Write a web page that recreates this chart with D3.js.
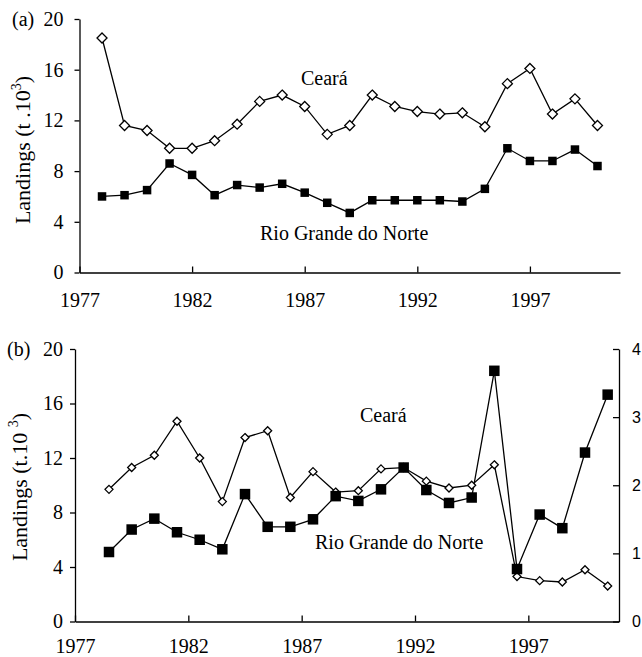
<!DOCTYPE html>
<html>
<head>
<meta charset="utf-8">
<script src="https://cdn.jsdelivr.net/npm/d3@7"></script>
<style>
body { margin: 0; background: #fff; }
svg { display: block; }
</style>
</head>
<body>
<svg id="chart" width="642" height="657"></svg>
<script>
// data (thousand tonnes)
const years = [1978, 1979, 1980, 1981, 1982, 1983, 1984, 1985, 1986, 1987, 1988, 1989,
               1990, 1991, 1992, 1993, 1994, 1995, 1996, 1997, 1998, 1999, 2000];
const xTicks = [1977, 1982, 1987, 1992, 1997];
const yTicks = [0, 4, 8, 12, 16, 20];
const yRightTicks = [0, 1, 2, 3, 4];

const cearaA = [18.5, 11.6, 11.2, 9.8, 9.8, 10.4, 11.7, 13.5, 14.0, 13.1, 10.9, 11.6,
                14.0, 13.1, 12.7, 12.5, 12.6, 11.5, 14.9, 16.1, 12.5, 13.7, 11.6];
const rgnA = [6.0, 6.1, 6.5, 8.6, 7.7, 6.1, 6.9, 6.7, 7.0, 6.3, 5.5, 4.7,
              5.7, 5.7, 5.7, 5.7, 5.6, 6.6, 9.8, 8.8, 8.8, 9.7, 8.4];

const cearaB = [9.7, 11.3, 12.2, 14.7, 12.0, 8.8, 13.5, 14.0, 9.1, 11.0, 9.5, 9.6,
                11.2, 11.3, 10.3, 9.8, 10.0, 11.5, 3.3, 3.0, 2.9, 3.8, 2.6];
// Rio Grande do Norte in (b) is read on the right axis
const rgnB = [1.02, 1.35, 1.51, 1.31, 1.20, 1.06, 1.87, 1.39, 1.39, 1.50, 1.84, 1.77,
              1.94, 2.26, 1.93, 1.74, 1.82, 3.68, 0.77, 1.57, 1.37, 2.48, 3.33];

const SERIF = "'Liberation Serif', 'Times New Roman', serif";
const SANS = "'Liberation Sans', Arial, sans-serif";

const svg = d3.select("#chart");

function diamond(cx, cy, r) {
    return `M${cx},${cy - r}L${cx + r},${cy}L${cx},${cy + r}L${cx - r},${cy}Z`;
}

function styleAxis(g, size, family) {
    g.attr("font-size", size).attr("font-family", family);
    g.selectAll("path, line").attr("stroke", "#000").attr("stroke-width", 1.3);
    g.selectAll("text").attr("fill", "#000").attr("font-family", family);
}

function drawPanel(p) {
    const x = d3.scaleLinear().domain([1977, 2001]).range([p.left, p.right]);
    const y = d3.scaleLinear().domain([0, 20]).range([p.bottom, p.top]);
    const yR = d3.scaleLinear().domain([0, 4]).range([p.bottom, p.top]);
    const g = svg.append("g");

    // x axis, ticks pointing inwards
    const xAxis = g.append("g")
        .attr("transform", `translate(0,${p.bottom})`)
        .call(d3.axisBottom(x).tickValues(xTicks).tickFormat(d3.format("d"))
            .tickSizeInner(-6).tickSizeOuter(0).tickPadding(p.xPad));
    styleAxis(xAxis, 20, SERIF);

    // left axis
    const yAxis = g.append("g")
        .attr("transform", `translate(${p.left},0)`)
        .call(d3.axisLeft(y).tickValues(yTicks).tickSizeInner(5).tickSizeOuter(0).tickPadding(p.yPad));
    styleAxis(yAxis, 20, SERIF);

    if (p.rightAxis) {
        const yrAxis = g.append("g")
            .attr("transform", `translate(${p.right},0)`)
            .call(d3.axisRight(yR).tickValues(yRightTicks).tickFormat(d3.format("d"))
                .tickSizeInner(-6).tickSizeOuter(0).tickPadding(13));
        styleAxis(yrAxis, 16, SANS);
    }

    // y label with superscript
    const lab = g.append("text")
        .attr("transform", `translate(${p.labelX},${p.labelY}) rotate(-90)`)
        .attr("text-anchor", "middle")
        .attr("font-family", SERIF)
        .attr("font-size", 22);
    lab.append("tspan").text(p.labelText);
    lab.append("tspan").attr("dy", -9).attr("font-size", 14).text("3");
    lab.append("tspan").attr("dy", 9).text(")");

    g.append("text")
        .attr("x", p.tagX).attr("y", p.top + 7)
        .attr("font-family", SERIF)
        .attr("font-size", 20)
        .text(p.tag);

    const px = d => x(d + p.offset);
    const ceara = years.map((yr, i) => [px(yr), y(p.ceara[i])]);
    const yRgn = p.rightAxis ? yR : y;
    const rgn = years.map((yr, i) => [px(yr), yRgn(p.rgn[i])]);

    const line = d3.line();
    g.append("path").attr("d", line(ceara))
        .attr("fill", "none").attr("stroke", "#000").attr("stroke-width", 1.3);
    g.append("path").attr("d", line(rgn))
        .attr("fill", "none").attr("stroke", "#000").attr("stroke-width", 1.3);

    g.selectAll(".dia")
        .data(ceara)
        .enter()
        .append("path")
            .attr("d", d => diamond(d[0], d[1], p.diaR))
            .attr("fill", "#fff")
            .attr("stroke", "#000")
            .attr("stroke-width", 1.3);

    g.selectAll(".sq")
        .data(rgn)
        .enter()
        .append("rect")
            .attr("x", d => d[0] - p.sq / 2)
            .attr("y", d => d[1] - p.sq / 2)
            .attr("width", p.sq)
            .attr("height", p.sq)
            .attr("fill", "#000");

    g.append("text")
        .attr("x", p.cearaLabel[0]).attr("y", p.cearaLabel[1])
        .attr("font-family", SERIF)
        .attr("font-size", 20)
        .text("Ceará");
    g.append("text")
        .attr("x", p.rgnLabel[0]).attr("y", p.rgnLabel[1])
        .attr("font-family", SERIF)
        .attr("font-size", 20)
        .text("Rio Grande do Norte");
}

drawPanel({
    tag: "(a)", tagX: 12,
    left: 79.5, right: 620, top: 19, bottom: 272.5,
    xPad: 20, yPad: 11, offset: 0,
    ceara: cearaA, rgn: rgnA, rightAxis: false,
    diaR: 5, sq: 8.5,
    labelX: 30, labelY: 150, labelText: "Landings (t .10",
    cearaLabel: [301, 85], rgnLabel: [260, 240]
});

drawPanel({
    tag: "(b)", tagX: 7,
    left: 75, right: 619, top: 349, bottom: 621.5,
    xPad: 17, yPad: 7, offset: 0.5,
    ceara: cearaB, rgn: rgnB, rightAxis: true,
    diaR: 4, sq: 10.5,
    labelX: 27, labelY: 487, labelText: "Landings (t.10 ",
    cearaLabel: [360, 422], rgnLabel: [315, 549]
});
</script>
</body>
</html>
